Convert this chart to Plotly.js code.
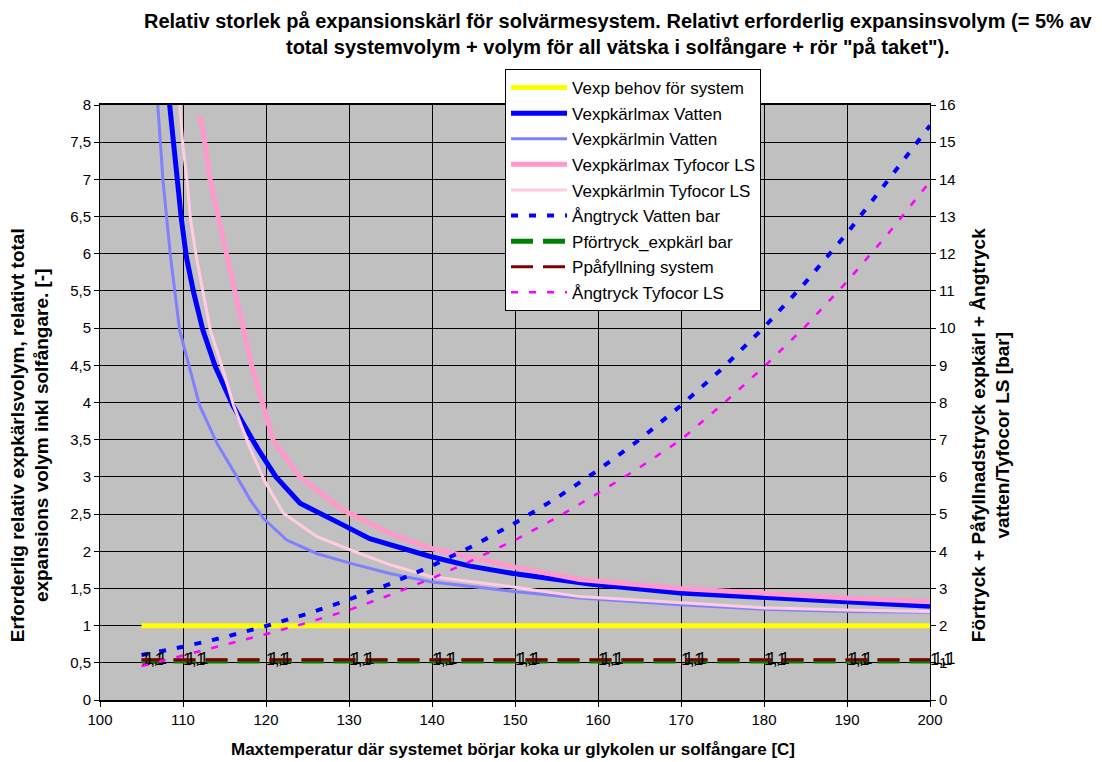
<!DOCTYPE html>
<html>
<head>
<meta charset="utf-8">
<script src="https://cdn.plot.ly/plotly-3.0.1.min.js"></script>
<style>html,body{margin:0;padding:0;background:#fff;}#chart{width:1102px;height:762px;}</style>
</head>
<body>
<div id="chart"></div>
<script>
// Shared temperature axis for constant lines and vapour pressure curves [C]
const xTemp = [105,110,115,120,125,130,135,140,145,150,155,160,165,170,175,180,185,190,195,200];
const vexpBehov = [1,1,1,1,1,1,1,1,1,1,1,1,1,1,1,1,1,1,1,1];
const angVatten = [1.21,1.43,1.69,1.99,2.32,2.70,3.13,3.61,4.15,4.76,5.43,6.18,7.00,7.92,8.92,10.02,11.23,12.55,13.99,15.45];
const angTyfocor = [0.91,1.20,1.47,1.77,2.08,2.42,2.83,3.27,3.77,4.30,4.90,5.56,6.25,7.00,7.95,8.96,10.05,11.25,12.55,13.94];
const pFortryck = [1.05,1.05,1.05,1.05,1.05,1.05,1.05,1.05,1.05,1.05,1.05,1.05,1.05,1.05,1.05,1.05,1.05,1.05,1.05,1.05];
const pPafyllning = [1.08,1.08,1.08,1.08,1.08,1.08,1.08,1.08,1.08,1.08,1.08,1.08,1.08,1.08,1.08,1.08,1.08,1.08,1.08,1.08];
const labelsFortryck = ["1,1","1,1","","1,1","","1,1","","1,1","","1,1","","1,1","","1,1","","1,1","","1,1","","1,1"];
const labelsPafyllning = ["\u20091,1","\u20091,1","","\u20091,1","","\u20091,1","","\u20091,1","","\u20091,1","","\u20091,1","","\u20091,1","","\u20091,1","","\u20091,1","","\u20091,1"];

// Vexpkärlmax Vatten
const xMaxVatten = [108.3,108.9,109.3,109.8,110.4,111.3,112.4,113.9,116.0,119.0,121.2,124.1,128.9,132.5,139.8,144.6,149.8,159.0,169.9,179.9,190.0,200.0];
const yMaxVatten = [8.10,7.44,6.97,6.47,5.96,5.47,4.97,4.48,3.96,3.38,3.00,2.645,2.375,2.17,1.93,1.80,1.70,1.56,1.44,1.38,1.31,1.26];
// Vexpkärlmin Vatten
const xMinVatten = [106.9,107.6,108.5,109.6,112.0,114.1,116.5,118.1,119.7,122.5,126.1,130.1,134.9,139.8,149.8,157.8,169.9,179.9,190.0,200.0];
const yMinVatten = [8.10,6.97,5.96,4.97,3.96,3.45,3.00,2.69,2.44,2.15,1.97,1.84,1.70,1.59,1.46,1.37,1.28,1.22,1.19,1.18];
// Vexpkärlmax Tyfocor LS
const xMaxTyf = [112.0,112.4,113.3,114.3,115.3,116.3,117.3,118.3,119.7,120.9,124.1,129.3,134.9,139.8,149.8,157.8,169.9,179.9,190.0,200.0];
const yMaxTyf = [7.85,7.66,6.97,6.45,5.96,5.47,4.97,4.48,3.96,3.48,3.00,2.55,2.24,2.04,1.79,1.62,1.50,1.43,1.37,1.32];
// Vexpkärlmin Tyfocor LS
const xMinTyf = [109.6,110.0,110.5,110.9,111.6,112.4,113.3,114.7,116.1,118.1,119.8,122.1,126.1,130.1,134.9,139.8,149.8,157.8,169.9,179.9,190.0,200.0];
const yMinTyf = [8.00,7.44,6.97,6.47,5.96,5.47,4.97,4.48,3.96,3.38,2.95,2.51,2.20,2.02,1.82,1.66,1.52,1.39,1.31,1.24,1.21,1.19];

const FONT = 'Liberation Sans, Arial, sans-serif';
const titleText = 'Relativ storlek på expansionskärl för solvärmesystem. Relativt erforderlig expansinsvolym (= 5% av<br>total systemvolym + volym för all vätska i solfångare + rör "på taket").';
const yTitleLeft = 'Erforderlig relativ expkärlsvolym, relativt total<br>expansions volym inkl solfångare. [-]';
const yTitleRight = 'Förtryck + Påfyllnadstryck expkärl + Ångtryck<br>vatten/Tyfocor LS [bar]';
const xTitle = 'Maxtemperatur där systemet börjar koka ur glykolen ur solfångare [C]';

const traces = [
  {name:'Vexp behov för system', x:xTemp, y:vexpBehov, yaxis:'y', mode:'lines', line:{color:'#FFFF00', width:5}},
  {name:'Vexpkärlmax Vatten', x:xMaxVatten, y:yMaxVatten, yaxis:'y', mode:'lines', line:{color:'#0000FF', width:5}},
  {name:'Vexpkärlmin Vatten', x:xMinVatten, y:yMinVatten, yaxis:'y', mode:'lines', line:{color:'#8080FF', width:3}},
  {name:'Vexpkärlmax Tyfocor LS', x:xMaxTyf, y:yMaxTyf, yaxis:'y', mode:'lines', line:{color:'#FF99CC', width:5}},
  {name:'Vexpkärlmin Tyfocor LS', x:xMinTyf, y:yMinTyf, yaxis:'y', mode:'lines', line:{color:'#FFCCE4', width:3}},
  {name:'Ångtryck Vatten bar', x:xTemp, y:angVatten, yaxis:'y2', mode:'lines', line:{color:'#0000FF', width:4, dash:'7px,11px'}},
  {name:'Pförtryck_expkärl bar', x:xTemp, y:pFortryck, yaxis:'y2', mode:'lines+text', text:labelsFortryck, textposition:'middle right', textfont:{family:FONT, size:16, color:'#000'}, line:{color:'#008000', width:5, dash:'22px,10px'}, cliponaxis:false},
  {name:'Ppåfyllning system', x:xTemp, y:pPafyllning, yaxis:'y2', mode:'lines+text', text:labelsPafyllning, textposition:'middle right', textfont:{family:FONT, size:16, color:'#000'}, line:{color:'#800000', width:3, dash:'22px,10px'}, cliponaxis:false},
  {name:'Ångtryck Tyfocor LS', x:xTemp, y:angTyfocor, yaxis:'y2', mode:'lines', line:{color:'#FF00FF', width:2.5, dash:'7px,11px'}}
];
traces.forEach((t,i)=>{ t.legendgroup='g'+i; });

const layout = {
  width:1102, height:762,
  margin:{l:100, r:172, t:105, b:62},
  paper_bgcolor:'#FFFFFF',
  plot_bgcolor:'#C0C0C0',
  separators:', ',
  font:{family:FONT, size:15, color:'#000'},
  showlegend:true,
  legend:{
    x:0.488, y:1.0605, xref:'paper', yref:'paper', xanchor:'left', yanchor:'top',
    bgcolor:'#FFFFFF', bordercolor:'#000000', borderwidth:1,
    font:{family:FONT, size:17, color:'#000'},
    itemwidth:56, tracegroupgap:0.5, traceorder:'grouped'
  },
  xaxis:{
    range:[100,200], dtick:10, tick0:100,
    showgrid:true, gridcolor:'#000000', gridwidth:1,
    ticks:'outside', ticklen:5, tickcolor:'#000',
    showline:true, linecolor:'#000', linewidth:2, mirror:true,
    zeroline:false, tickfont:{size:15}
  },
  yaxis:{
    range:[0,8], dtick:0.5, tick0:0,
    showgrid:true, gridcolor:'#000000', gridwidth:1,
    ticks:'outside', ticklen:5, tickcolor:'#000',
    showline:true, linecolor:'#000', linewidth:1,
    zeroline:false, tickfont:{size:15}
  },
  yaxis2:{
    range:[0,16], dtick:1, tick0:0, overlaying:'y', side:'right',
    showgrid:false, ticks:'outside', ticklen:5, tickcolor:'#000',
    showline:true, linecolor:'#000', linewidth:1,
    zeroline:false, tickfont:{size:15}
  },
  annotations:[
    {text:'<b>'+titleText+'</b>',
     xref:'paper', yref:'paper', x:0.6241, y:1.1185, xanchor:'center', yanchor:'middle', showarrow:false,
     font:{family:FONT, size:20, color:'#000'}},
    {text:'<b>'+yTitleLeft+'</b>', textangle:-90,
     xref:'paper', yref:'paper', x:-0.0843, y:0.445, xanchor:'center', yanchor:'middle', showarrow:false,
     font:{family:FONT, size:19, color:'#000'}},
    {text:'<b>'+yTitleRight+'</b>', textangle:-90,
     xref:'paper', yref:'paper', x:1.0735, y:0.445, xanchor:'center', yanchor:'middle', showarrow:false,
     font:{family:FONT, size:19, color:'#000'}},
    {text:'<b>'+xTitle+'</b>',
     xref:'paper', yref:'paper', x:0.4976, y:-0.084, xanchor:'center', yanchor:'middle', showarrow:false,
     font:{family:FONT, size:17, color:'#000'}}
  ]
};

Plotly.newPlot('chart', traces, layout, {displayModeBar:false, staticPlot:true});
</script>
</body>
</html>
